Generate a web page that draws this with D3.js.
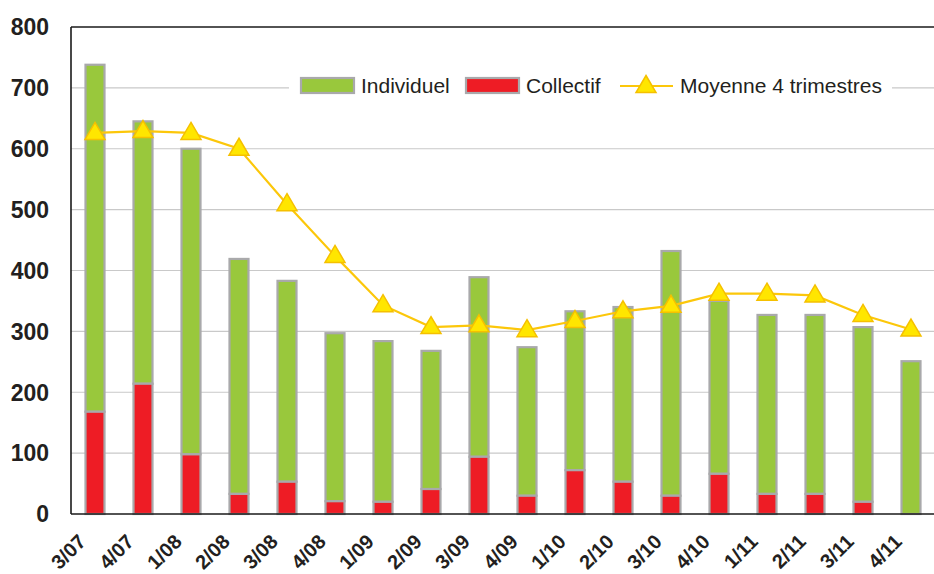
<!DOCTYPE html>
<html>
<head>
<meta charset="utf-8">
<script src="https://cdn.jsdelivr.net/npm/d3@7"></script>
<style>
html,body{margin:0;padding:0;background:#fff;}
svg{display:block;}
</style>
</head>
<body>
<svg id="chart" width="934" height="574"></svg>
<script>
const categories = ["3/07","4/07","1/08","2/08","3/08","4/08","1/09","2/09","3/09","4/09","1/10","2/10","3/10","4/10","1/11","2/11","3/11","4/11"];
const totals     = [738,645,600,419,383,297,284,268,389,274,333,340,432,350,327,327,307,251];
const collectif  = [168,214,98,33,53,21,20,41,94,30,72,53,30,66,33,33,20,0];
const individuel = totals.map((t,i)=>t-collectif[i]);
const moyenne    = [626,629,626,600,509,424,343,307,310,302,317,333,342,362,362,359,327,303];
const yTicks     = [0,100,200,300,400,500,600,700,800];
const legendLabels = ["Individuel","Collectif","Moyenne 4 trimestres"];

const colGreen = "#99c83c", colRed = "#ee1c25", colStroke = "#a9a9ab";
const colLine = "#fcc70a", colMarker = "#ffe600", colMarkerStroke = "#f5c000";
const textCol = "#231f20";

const svg = d3.select("#chart");
const pLeft = 71, pRight = 935, pTop = 27, pBottom = 514;

const x = d3.scaleBand().domain(categories).range([pLeft, pRight]).paddingInner(0).paddingOuter(0);
const y = d3.scaleLinear().domain([0,800]).range([pBottom, pTop]);

// gridlines
svg.append("g").selectAll("line").data(yTicks.filter(d=>d>0 && d<800)).join("line")
  .attr("x1", pLeft).attr("x2", pRight).attr("y1", d=>y(d)).attr("y2", d=>y(d))
  .attr("stroke", "#c9c9c9").attr("stroke-width", 1.2);

// legend background (covers gridline)
const lg = svg.append("g");
lg.append("rect").attr("x", 289).attr("y", 62).attr("width", 603).attr("height", 50).attr("fill", "#fff");

// bars
const bw = 19;
const bars = svg.append("g");
categories.forEach((c,i)=>{
  const cx = x(c) + x.bandwidth()/2;
  bars.append("rect")
    .attr("x", cx - bw/2).attr("width", bw)
    .attr("y", y(totals[i])).attr("height", y(collectif[i]) - y(totals[i]))
    .attr("fill", colGreen).attr("stroke", colStroke).attr("stroke-width", 2.2);
  if (collectif[i] > 0) {
    bars.append("rect")
      .attr("x", cx - bw/2).attr("width", bw)
      .attr("y", y(collectif[i])).attr("height", y(0) - y(collectif[i]))
      .attr("fill", colRed).attr("stroke", colStroke).attr("stroke-width", 2.2);
  }
});

// axes frame
const frame = svg.append("g").attr("stroke", "#1a1a1a").attr("stroke-width", 1.6);
frame.append("line").attr("x1", pLeft).attr("x2", pLeft).attr("y1", pTop).attr("y2", pBottom);
frame.append("line").attr("x1", pLeft).attr("x2", pRight).attr("y1", pBottom).attr("y2", pBottom);
frame.append("line").attr("x1", pLeft).attr("x2", pRight).attr("y1", pTop).attr("y2", pTop);

// line
const line = d3.line().x((d,i)=>x(categories[i]) + x.bandwidth()/2).y(d=>y(d));
svg.append("path").datum(moyenne).attr("d", line)
  .attr("fill", "none").attr("stroke", colLine).attr("stroke-width", 2.2);

const tri = "M0,-10.5L10,6.5L-10,6.5Z";
svg.append("g").selectAll("path").data(moyenne).join("path")
  .attr("d", tri)
  .attr("transform", (d,i)=>`translate(${x(categories[i]) + x.bandwidth()/2},${y(d)})`)
  .attr("fill", colMarker).attr("stroke", colMarkerStroke).attr("stroke-width", 1.5);

// y tick labels
svg.append("g").selectAll("text").data(yTicks).join("text")
  .attr("x", 49).attr("y", d=>y(d)).attr("dy", "0.36em")
  .attr("text-anchor", "end")
  .attr("font-family", "Liberation Sans, Arial, sans-serif")
  .attr("font-weight", "bold").attr("font-size", 23).attr("fill", textCol)
  .text(d=>d);

// x tick labels
svg.append("g").selectAll("text").data(categories).join("text")
  .attr("transform", d=>`translate(${x(d) + x.bandwidth()/2 - 8},${543}) rotate(-45)`)
  .attr("text-anchor", "end")
  .attr("font-family", "Liberation Sans, Arial, sans-serif")
  .attr("font-weight", "bold").attr("font-size", 20).attr("fill", textCol)
  .text(d=>d);

// legend
const lf = {family:"Liberation Sans, Arial, sans-serif", size:21};
lg.append("rect").attr("x", 301).attr("y", 78).attr("width", 53).attr("height", 15)
  .attr("fill", colGreen).attr("stroke", colStroke).attr("stroke-width", 2.2);
lg.append("text").attr("x", 361).attr("y", 93).text(legendLabels[0]);
lg.append("rect").attr("x", 466).attr("y", 78).attr("width", 53).attr("height", 15)
  .attr("fill", colRed).attr("stroke", colStroke).attr("stroke-width", 2.2);
lg.append("text").attr("x", 526).attr("y", 93).text(legendLabels[1]);
lg.append("line").attr("x1", 620).attr("x2", 673).attr("y1", 86).attr("y2", 86)
  .attr("stroke", colLine).attr("stroke-width", 2.2);
lg.append("path").attr("d", tri).attr("transform", "translate(646,86)")
  .attr("fill", colMarker).attr("stroke", colMarkerStroke).attr("stroke-width", 1.5);
lg.append("text").attr("x", 680).attr("y", 93).text(legendLabels[2]);
lg.selectAll("text").attr("font-family", lf.family).attr("font-size", lf.size).attr("fill", textCol);
</script>
</body>
</html>
